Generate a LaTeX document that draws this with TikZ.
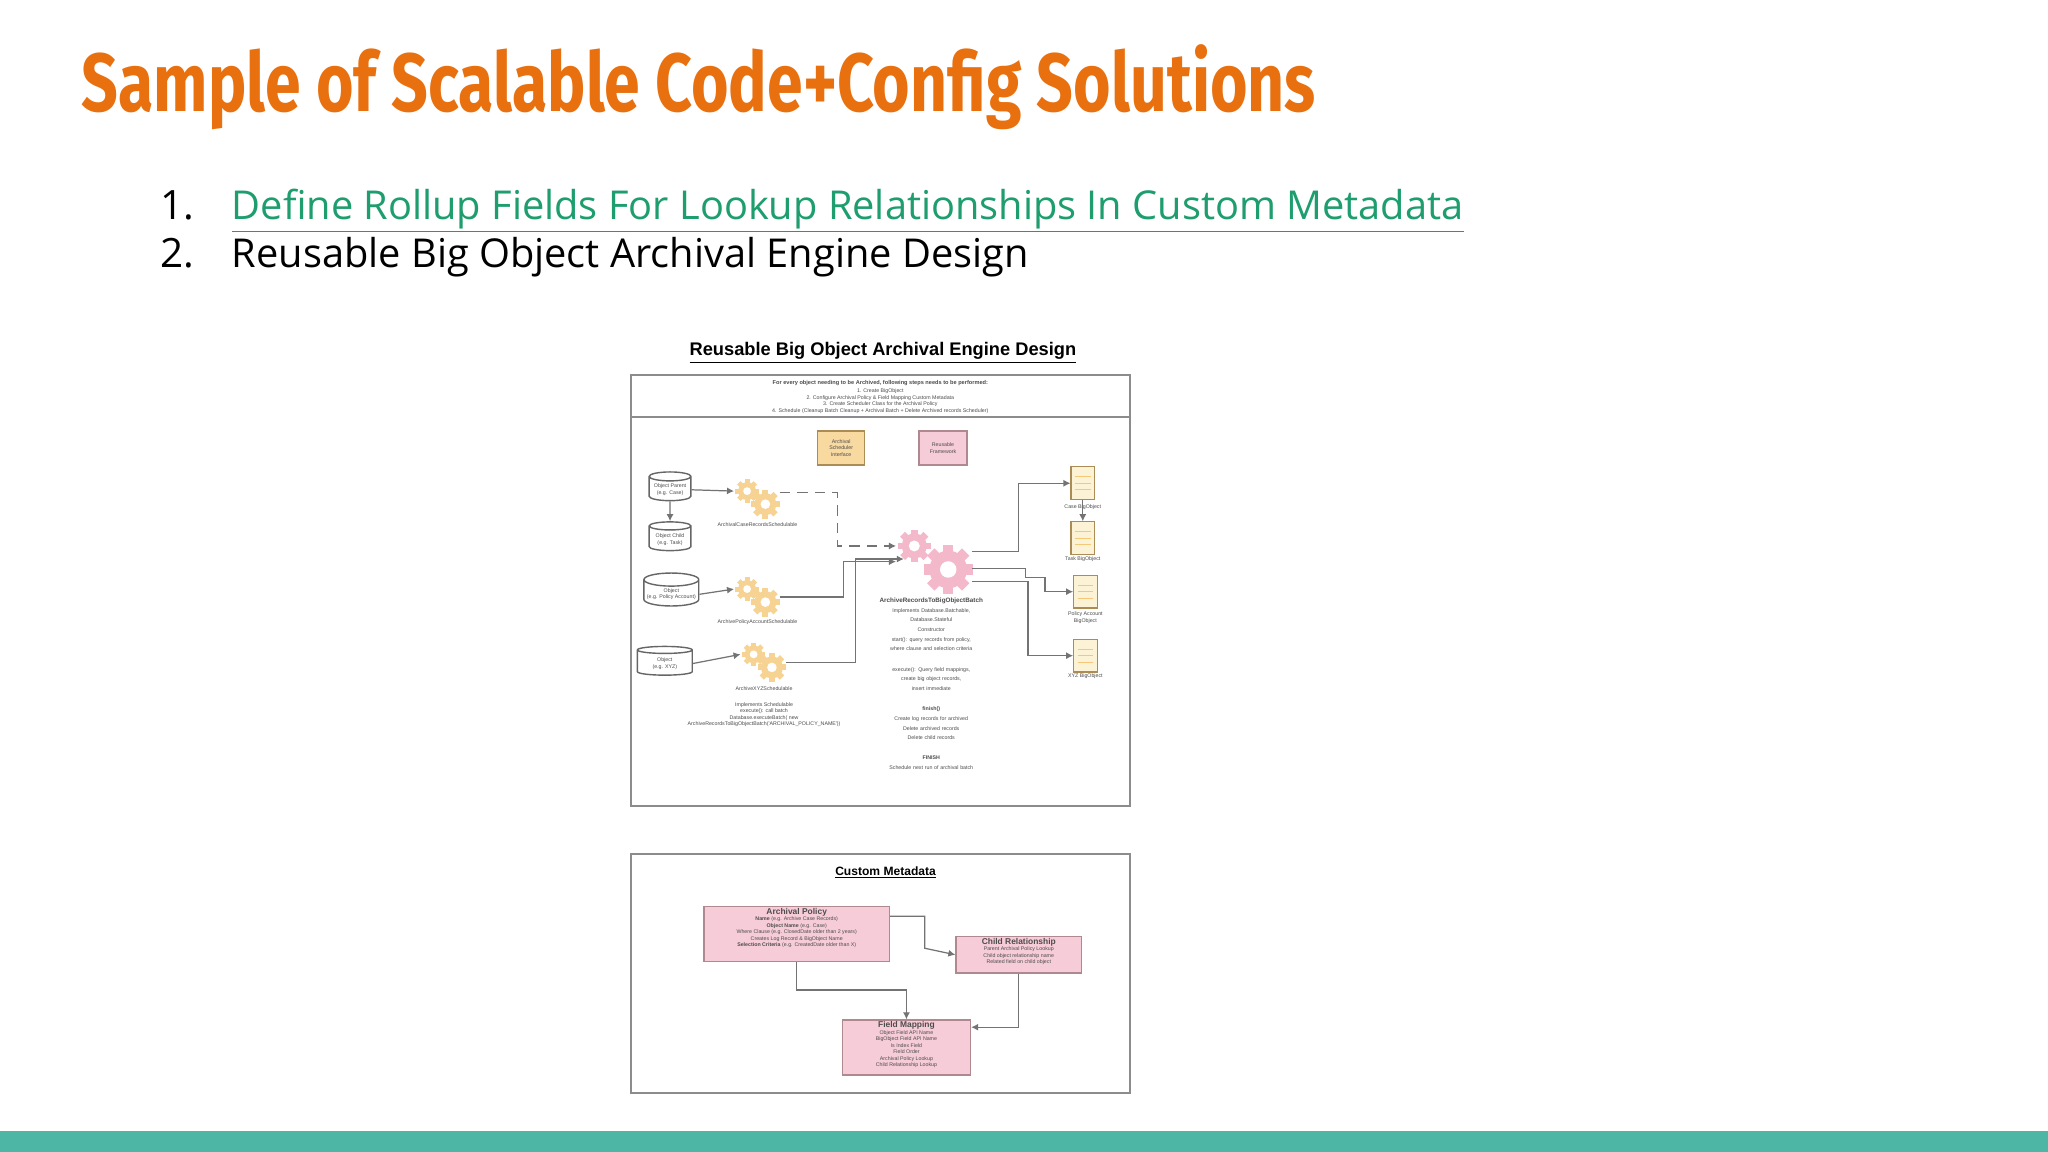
\documentclass[tikz,border=0pt]{standalone}
\usepackage{fontspec}
\usepackage{graphicx}
\setmainfont{Open Sans}
\newfontfamily\titlefont[FakeStretch=0.78]{Fira Sans Bold}
\newfontfamily\arial{Liberation Sans}
\usetikzlibrary{arrows.meta,shapes.geometric,calc}
\newlength\pxu \setlength\pxu{0.013061cm}
\definecolor{orng}{HTML}{E8700F}
\definecolor{lnk}{HTML}{1E9E6E}
\definecolor{teal}{HTML}{4DB6A4}
\definecolor{pinkf}{HTML}{F6CCD8}
\definecolor{pinkd}{HTML}{B08890}
\definecolor{gold}{HTML}{F5C878}
\definecolor{goldf}{HTML}{F8D9A0}
\definecolor{docf}{HTML}{FCF3D6}
\definecolor{gearp}{HTML}{F4B8CB}
\tikzset{
  px/.style={x=0.013061cm,y=-0.013061cm},
  frame/.style={draw=black!45,line width=0.5pt},
  conn/.style={draw=black!55,line width=0.35pt,-{Latex[length=2pt,width=2pt]}},
  tiny/.style={font=\arial\fontsize{1.5}{1.85}\selectfont,align=center,text=black!70,inner sep=0.5pt},
  cyl/.style={cylinder,shape border rotate=90,draw=black!60,fill=white,aspect=0.25,line width=0.4pt,minimum height=22\pxu,inner sep=0pt},
  doc/.style={draw=gold!70!black,fill=docf,line width=0.3pt,minimum width=18\pxu,minimum height=25\pxu,inner sep=0pt},
  cmbox/.style={draw=pinkd,fill=pinkf,line width=0.4pt,inner sep=0pt},
  gear/.pic={
    \foreach \a in {0,45,...,315}{\fill[rotate=\a] (-0.22,0.5) rectangle (0.22,1.05);}
    \fill (0,0) circle (0.8);
    \fill[white] (0,0) circle (0.35);
  }
}
\begin{document}
\begin{tikzpicture}[px]
\useasboundingbox (0,0) rectangle (1568,882);
\fill[white] (0,0) rectangle (1568,882);
\fill[teal] (0,866) rectangle (1568,882);
% title
\node[anchor=west,inner sep=0pt,text=orng] (title) at (62,67) {\resizebox{945\pxu}{!}{\titlefont Sample of Scalable Code+Config Solutions}};
% list
\node[anchor=base west,inner sep=0pt,font=\fontsize{11.5}{14}\selectfont] (n1) at (122,168) {1.};
\node[anchor=base west,inner sep=0pt,text=lnk] (l1) at (177,168) {\resizebox{943\pxu}{!}{\fontsize{23}{28}\selectfont\underline{Define Rollup Fields For Lookup Relationships In Custom Metadata}}};
\node[anchor=base west,inner sep=0pt,font=\fontsize{11.5}{14}\selectfont] (n2) at (122,205) {2.};
\node[anchor=base west,inner sep=0pt] (l2) at (177,205) {\resizebox{610\pxu}{!}{\fontsize{23}{28}\selectfont Reusable Big Object Archival Engine Design}};
% diagram 1
\node[inner sep=0pt] (dt) at (676,270) {\resizebox{296\pxu}{!}{\arial\bfseries\underline{Reusable Big Object Archival Engine Design}}};
\draw[frame] (483,287) rectangle (865,617);
\draw[frame] (483,319) -- (865,319);
\node[tiny,font=\arial\bfseries\fontsize{1.6}{1.9}\selectfont] (hd) at (674,293) {For every object needing to be Archived, following steps needs to be performed:};
\node[tiny,anchor=north] (hd2) at (674,296) {1. Create BigObject\\2. Configure Archival Policy \& Field Mapping Custom Metadata\\3. Create Scheduler Class for the Archival Policy\\4. Schedule (Cleanup Batch Cleanup + Archival Batch + Delete Archived records Scheduler)};
\node[draw=gold!70!black,fill=goldf,minimum width=36\pxu,minimum height=26\pxu,tiny] (ob) at (644,343) {Archival\\Scheduler\\Interface};
\node[draw=pinkd,fill=pinkf,minimum width=37\pxu,minimum height=26\pxu,tiny] (pb) at (722,343) {Reusable\\Framework};
% cylinders
\node[cyl,minimum width=32\pxu,tiny] (c1) at (513,375) {Object Parent\\(e.g. Case)};
\node[cyl,minimum width=32\pxu,tiny] (c2) at (513,413) {Object Child\\(e.g. Task)};
\node[cyl,minimum width=42\pxu,tiny] (c3) at (514,455) {Object\\(e.g. Policy Account)};
\node[cyl,minimum width=42\pxu,tiny] (c4) at (509,508) {Object\\(e.g. XYZ)};
% gears
\coordinate (g1) at (580,382); \coordinate (g2) at (580,457); \coordinate (g3) at (585,507);
\foreach \g in {g1,g2,g3}{
  \pic[fill=gold!80,scale=8.5] at ($(\g)+(-8,-6)$) {gear};
  \pic[fill=gold!80,scale=10.5] at ($(\g)+(6,4)$) {gear};
}
\pic[fill=gearp,scale=12] at (700,418) {gear};
\pic[fill=gearp,scale=18] at (726,436) {gear};
\node[tiny] (g1l) at (580,402) {ArchivalCaseRecordsSchedulable};
\node[tiny] (g2l) at (580,476) {ArchivePolicyAccountSchedulable};
\node[tiny] (g3l) at (585,527) {ArchiveXYZSchedulable};
\node[tiny,anchor=north] (g3t) at (585,536) {Implements Schedulable\\execute(): call batch\\Database.executeBatch( new\\ArchiveRecordsToBigObjectBatch('ARCHIVAL\_POLICY\_NAME'))};
\node[tiny,font=\arial\fontsize{1.5}{2.75}\selectfont,anchor=north,text width=80\pxu] (bt) at (713,456) {\textbf{\fontsize{1.8}{2.4}\selectfont ArchiveRecordsToBigObjectBatch}\\Implements Database.Batchable,\\Database.Stateful\\Constructor\\start(): query records from policy,\\where clause and selection criteria\\[3pt]execute(): Query field mappings,\\create big object records,\\insert immediate\\[3pt]\textbf{finish()}\\Create log records for archived\\Delete archived records\\Delete child records\\[3pt]\textbf{FINISH}\\Schedule next run of archival batch};
% docs
\node[doc] (d1) at (829,370) {}; \node[tiny] (d1l) at (829,388) {Case BigObject};
\node[doc] (d2) at (829,412) {}; \node[tiny] (d2l) at (829,428) {Task BigObject};
\node[doc] (d3) at (831,453) {}; \node[tiny] (d3l) at (831,473) {Policy Account\\BigObject};
\node[doc] (d4) at (831,502) {}; \node[tiny] (d4l) at (831,518) {XYZ BigObject};
\foreach \d in {d1,d2,d3,d4}{\foreach \k in {-5,0,5}{\draw[gold,line width=0.2pt] ($(\d)+(-6,\k)$) -- ($(\d)+(6,\k)$);}}
% connectors
\draw[conn] (c1.east) -- ($(g1)+(-18,-6)$);
\draw[conn] (c3.east) -- ($(g2)+(-18,-6)$);
\draw[conn] (c4.east) -- ($(g3)+(-18,-6)$);
\draw[conn] (c1.south) -- (c2.north);
\draw[conn,densely dashed] ($(g1)+(17,-5)$) -| (641,418) -- (686,418);
\draw[conn] ($(g2)+(17,0)$) -| (646,430) -- (686,430);
\draw[conn] ($(g3)+(17,0)$) -| (655,490) |- (692,428);
\draw[conn] (744,422) -| (780,370) -- (d1.west);
\draw[conn] (d1.south) -- (d2.north);
\draw[conn] (744,435) -| (785,442) -| (800,453) -- (d3.west);
\draw[conn] (744,445) -| (787,502) -- (d4.west);
% diagram 2
\draw[frame] (483,654) rectangle (865,837);
\node[inner sep=0pt] (cmt) at (678,668) {\resizebox{77\pxu}{!}{\arial\bfseries\underline{Custom Metadata}}};
\node[cmbox,minimum width=142\pxu,minimum height=42\pxu] (ap) at (610,715) {};
\node[tiny,anchor=north] (apt) at (ap.north) {\textbf{\fontsize{2.4}{2.8}\selectfont Archival Policy}\\\textbf{Name} (e.g. Archive Case Records)\\\textbf{Object Name} (e.g. Case)\\Where Clause (e.g. ClosedDate older than 2 years)\\Creates Log Record \& BigObject Name\\\textbf{Selection Criteria} (e.g. CreatedDate older than X)};
\node[cmbox,minimum width=96\pxu,minimum height=28\pxu] (cr) at (780,731) {};
\node[tiny,anchor=north] (crt) at (cr.north) {\textbf{\fontsize{2.4}{2.8}\selectfont Child Relationship}\\Parent Archival Policy Lookup\\Child object relationship name\\Related field on child object};
\node[cmbox,minimum width=98\pxu,minimum height=42\pxu] (fm) at (694,802) {};
\node[tiny,anchor=north] (fmt) at (fm.north) {\textbf{\fontsize{2.4}{2.8}\selectfont Field Mapping}\\Object Field API Name\\BigObject Field API Name\\Is Index Field\\Field Order\\Archival Policy Lookup\\Child Relationship Lookup};
\draw[conn] ([yshift=-8\pxu]ap.north east) -| (708,726) -- (cr.west);
\draw[conn] (ap.south) -- (610,758) -| (fm.north);
\draw[conn] (cr.south) |- ([yshift=-6\pxu]fm.north east);
\end{tikzpicture}
\end{document}
